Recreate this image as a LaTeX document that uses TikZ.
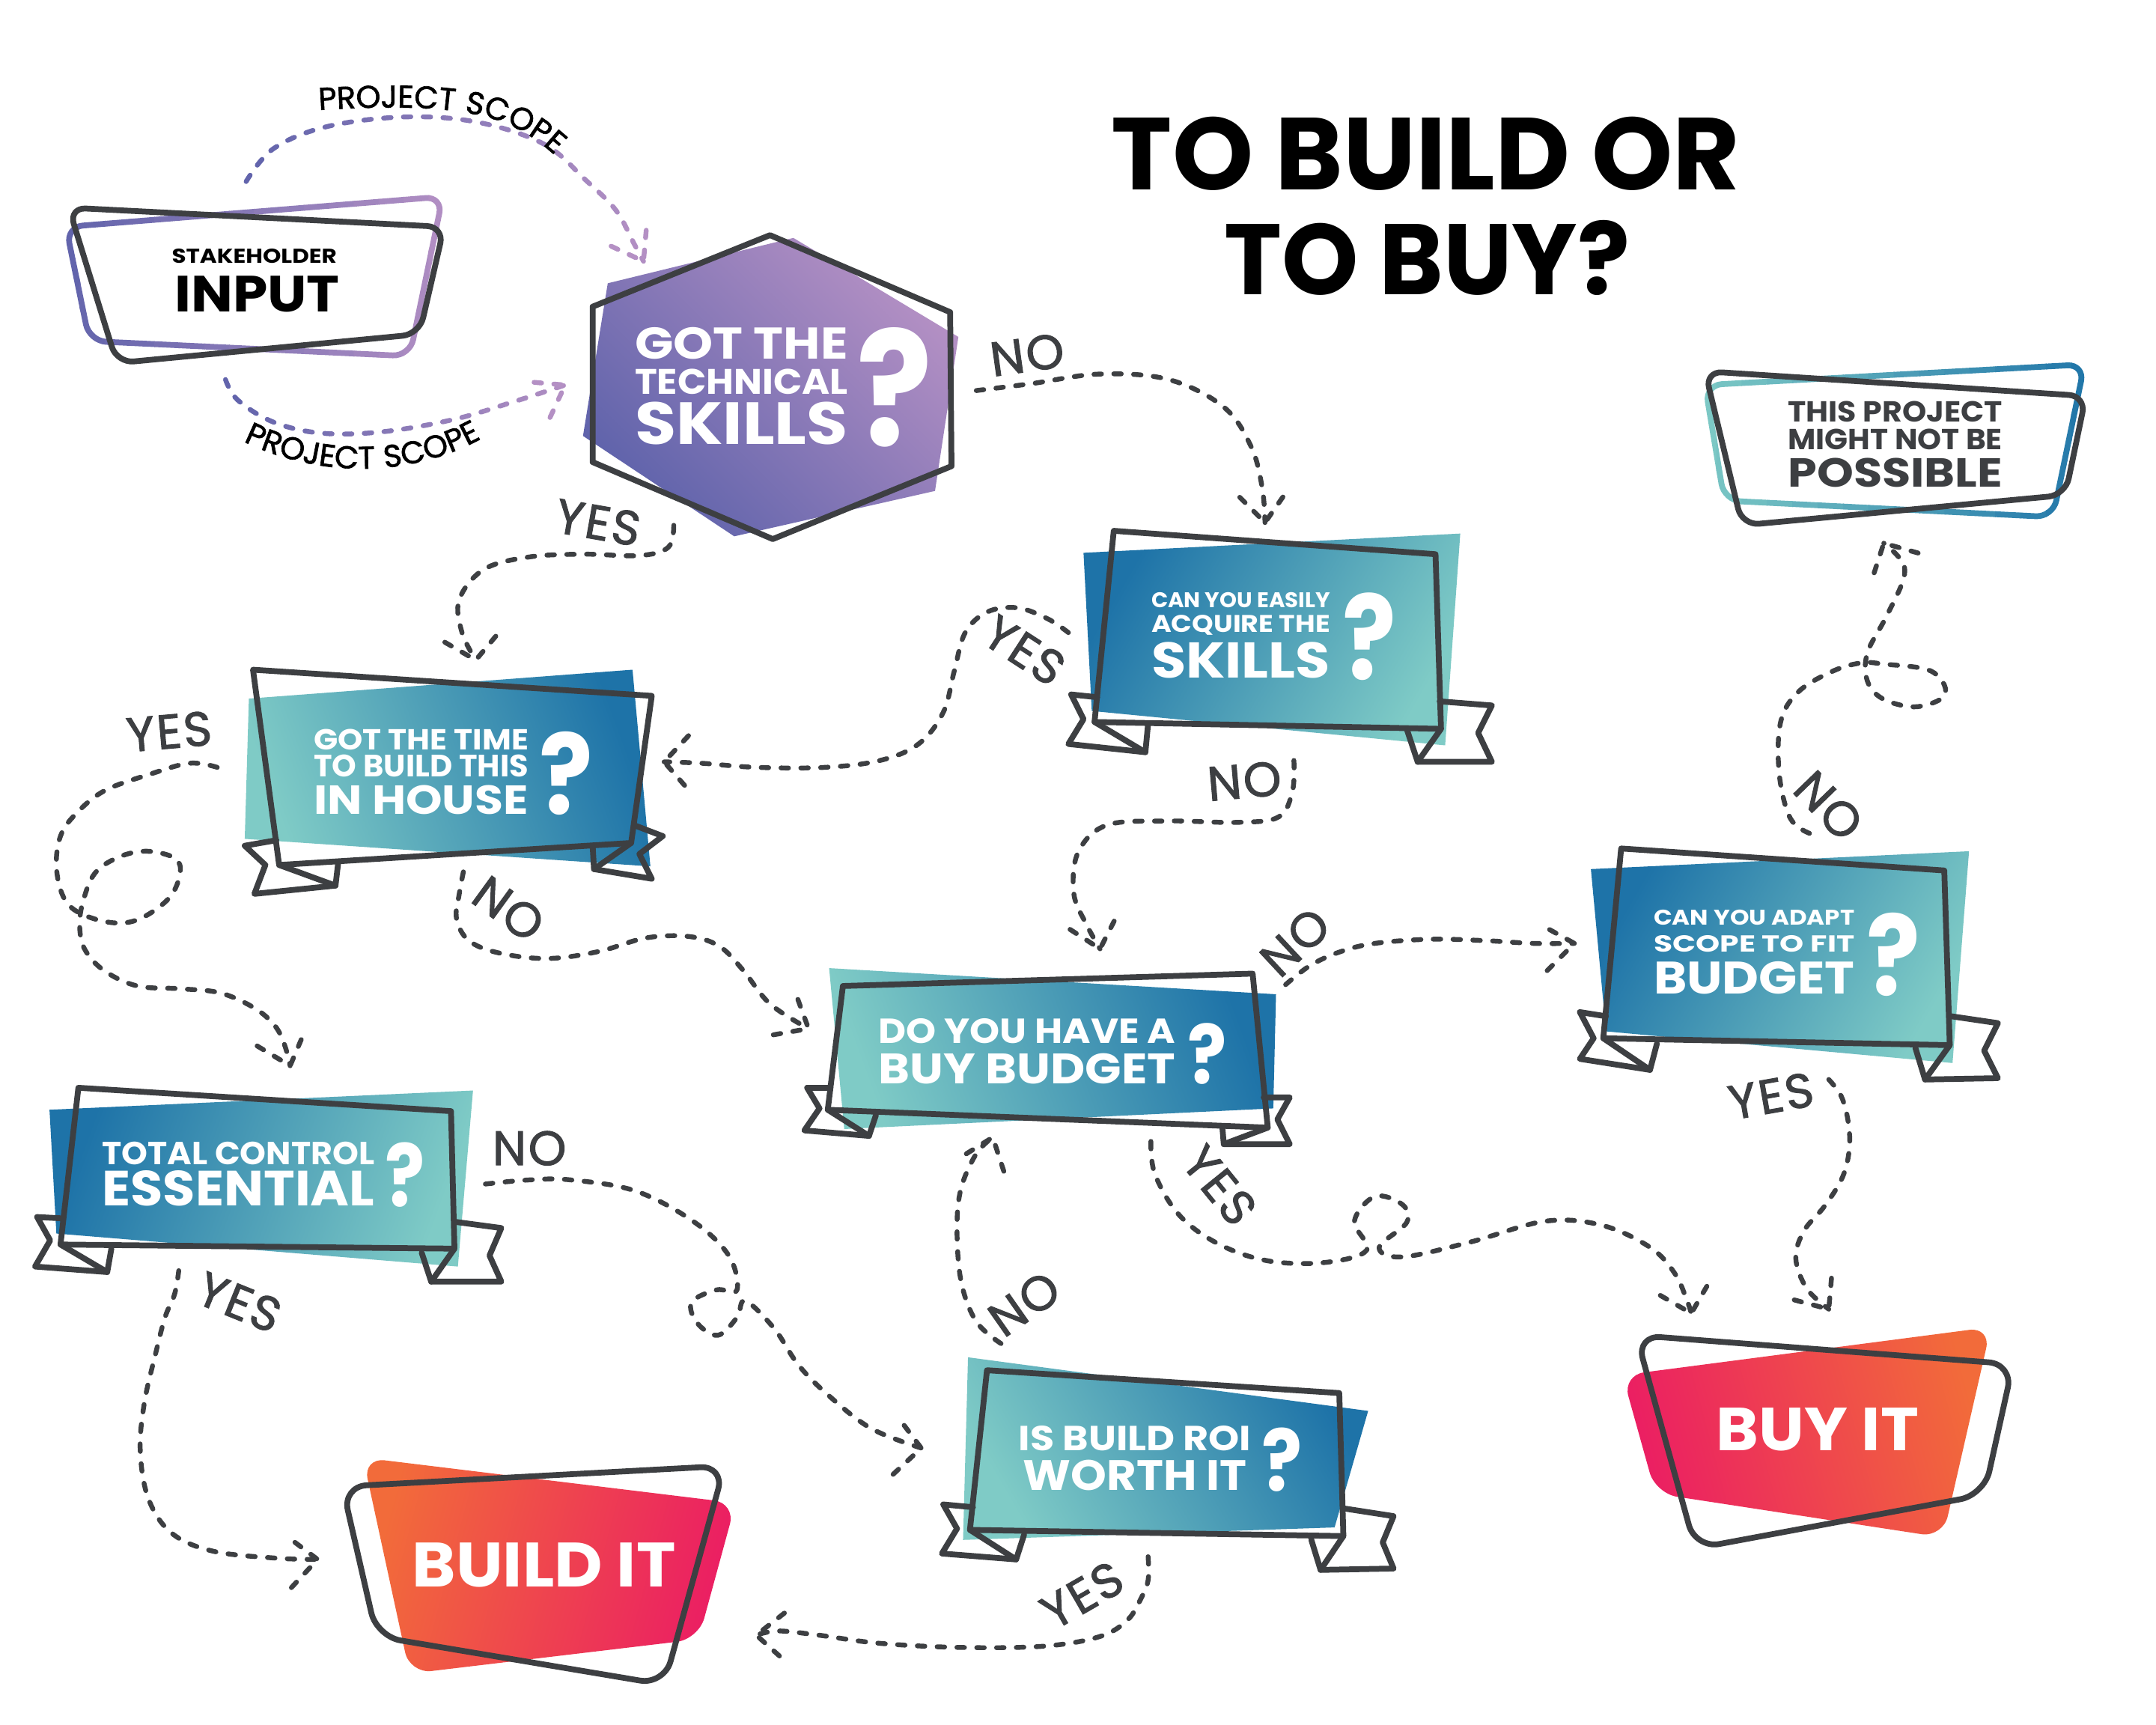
\documentclass[tikz,border=0pt]{standalone}
\usepackage{fontspec}
\usepackage{graphicx}
\usetikzlibrary{calc,decorations.text}
\newfontfamily\pop{Poppins}
\newfontfamily\popl{Poppins}[FakeBold=1.6, LetterSpace=4]
\newlength\du \setlength\du{0.02cm}
\definecolor{dk}{HTML}{3D3F42}
\definecolor{tealc}{HTML}{7FCBC6}
\definecolor{bluec}{HTML}{1E73A8}
\definecolor{purl}{HTML}{B490C4}
\definecolor{purd}{HTML}{5F63AB}
\definecolor{orng}{HTML}{F26B3A}
\definecolor{pnk}{HTML}{EB1E63}
\tikzset{
  conn/.style={draw=dk, line width=2pt, dash pattern=on 3.1pt off 5.1pt, line cap=round, line join=round},
  frame/.style={draw=dk, line width=2.4pt, line join=round, line cap=round},
  lbl/.style={inner sep=0pt, text=dk, font=\popl\fontsize{20}{20}\selectfont},
}
\newcommand\chev[5][conn]{\draw[#1] ($(#2)+({#3+180-#4}:#5)$) -- (#2) -- ($(#2)+({#3+180+#4}:#5)$);}
\newcommand\wl[6]{%
  \node[anchor=base west, inner sep=0pt, text=white] (#1) at (#2,#3) {\resizebox{#4\du}{#5\du}{\pop\bfseries #6}};}
\newcommand\dl[7]{%
  \node[anchor=base west, inner sep=0pt, text=#7] (#1) at (#2,#3) {\resizebox{#4\du}{#5\du}{\pop\bfseries #6}};}
\newcommand\gradstroke[6]{%
  \foreach \gi in {0,...,15}{%
    \pgfmathtruncatemacro\gpct{100*(\gi+0.5)/16}%
    \pgfmathsetmacro\gxa{#5+(#6-#5)*\gi/16-0.3}%
    \pgfmathsetmacro\gxb{#5+(#6-#5)*(\gi+1)/16+0.3}%
    \colorlet{gcol}{#4!\gpct!#3}%
    \begin{scope}
      \clip (\gxa,-50) rectangle (\gxb,1300);
      \draw[#1, draw=gcol] #2;
    \end{scope}
  }%
}
\begin{document}
\begin{tikzpicture}[x=0.02cm, y=-0.02cm]
\useasboundingbox (0,0) rectangle (1568,1254);
\fill[white] (0,0) rectangle (1568,1254);

% ---------- connectors ----------
\coordinate (c1s) at (179,132); \coordinate (c1t) at (468,190);
\gradstroke{conn}{plot[smooth,tension=0.6] coordinates {(c1s) (199,108) (238,92) (295,85) (348,89) (396,105) (426,131) (448,153) (461,177) (c1t)}}{purd}{purl}{175}{472}
\chev[conn,draw=purl]{c1t}{60}{35}{26}
\coordinate (c2s) at (164,276); \coordinate (c2t) at (411,280);
\gradstroke{conn}{plot[smooth,tension=0.6] coordinates {(c2s) (173,291) (199,307) (234,315) (278,314) (330,305) (374,292) (c2t)}}{purd}{purl}{160}{415}
\chev[conn,draw=purl]{c2t}{-30}{35}{26}

\path[decorate, decoration={text along path, text align=left, text={|\popl\fontsize{13}{13}\selectfont|PROJECT SCOPE}}] (232,80) .. controls (300,76) and (345,78) .. (375,93) .. controls (392,102) and (405,112) .. (418,130);
\path[decorate, decoration={text along path, text align=left, text={|\popl\fontsize{13}{13}\selectfont|PROJECT SCOPE}}] (177,321) .. controls (230,347) and (305,352) .. (368,308);

\coordinate (c3s) at (490,382); \coordinate (c3t) at (346,480);
\draw[conn] plot[smooth,tension=0.6] coordinates {(c3s) (486,398) (465,404) (425,403) (385,405) (352,414) (334,436) (336,460) (c3t)};
\chev{c3t}{80}{50}{26}

\coordinate (c4s) at (710,284); \coordinate (c4t) at (920,380);
\draw[conn] plot[smooth,tension=0.6] coordinates {(c4s) (750,279) (800,272) (850,276) (890,296) (910,325) (918,355) (c4t)};
\chev{c4t}{85}{40}{26}

\coordinate (c5s) at (777,460); \coordinate (c5t) at (483,554);
\draw[conn] plot[smooth,tension=0.6] coordinates {(c5s) (762,450) (740,442) (718,445) (702,460) (694,488) (686,518) (668,541) (640,553) (600,558) (550,558) (510,555) (c5t)};
\chev{c5t}{181}{48}{26}

\coordinate (c6s) at (941,553); \coordinate (c6t) at (800,690);
\draw[conn] plot[smooth,tension=0.6] coordinates {(c6s) (940,575) (930,594) (900,598) (850,597) (805,600) (784,620) (781,650) (790,672) (c6t)};
\chev{c6t}{75}{42}{26}

\coordinate (c7s) at (337,634); \coordinate (c7t) at (588,748);
\draw[conn] plot[smooth,tension=0.6] coordinates {(c7s) (334,650) (332,668) (341,684) (363,693) (398,697) (435,692) (470,682) (501,681) (523,688) (540,705) (560,730) (c7t)};
\chev{c7t}{30}{40}{26}

\coordinate (c8s) at (158,558); \coordinate (c8t) at (211,775);
\draw[conn] plot[smooth,tension=0.6] coordinates {(c8s) (138,555) (109,563) (76,575) (55,592) (44,608) (41,630) (46,652) (58,664) (82,671) (102,668) (123,653) (131,635) (127,624) (107,619) (87,623) (69,635) (60,657) (58,675) (62,691) (76,706) (100,717) (131,719) (160,722) (185,733) (200,746) (207,760) (c8t)};
\chev{c8t}{72}{41}{28}

\coordinate (c9s) at (935,716); \coordinate (c9t) at (1145,686);
\draw[conn] plot[smooth,tension=0.6] coordinates {(c9s) (953,702) (975,692) (1000,686) (1040,683) (1080,684) (1115,686) (c9t)};
\chev{c9t}{-8}{37}{28}

\coordinate (c10s) at (1316,606); \coordinate (c10t) at (1370,395);
\draw[conn] plot[smooth,tension=0.6] coordinates {(c10s) (1302,595) (1294,563) (1295,525) (1308,503) (1333,488) (1354,482) (1371,483) (1402,487) (1414,498) (1412,508) (1392,514) (1369,508) (1358,495) (1358,475) (1371,450) (1383,425) (1385,412) (1379,403) (c10t)};
\chev{c10t}{242}{46}{26}

\coordinate (c11s) at (837,830); \coordinate (c11t) at (1230,955);
\draw[conn] plot[smooth,tension=0.6] coordinates {(c11s) (840,854) (858,884) (887,905) (923,917) (964,918) (994,909) (985,888) (1000,870) (1020,876) (1023,889) (1003,907) (1020,914) (1070,903) (1124,888) (1165,891) (1200,907) (1218,926) (1227,946) (c11t)};
\chev{c11t}{75}{45}{26}

\coordinate (c12s) at (1330,785); \coordinate (c12t) at (1330,952);
\draw[conn] plot[smooth,tension=0.6] coordinates {(c12s) (1339,797) (1344,815) (1345,835) (1340,856) (1327,877) (1312,895) (1306,915) (1314,937) (c12t)};
\chev{c12t}{55}{40}{26}

\coordinate (c13s) at (353,861); \coordinate (c13t) at (670,1053);
\draw[conn] plot[smooth,tension=0.6] coordinates {(c13s) (385,858) (415,858) (462,866) (504,888) (530,913) (536,938) (521,938) (503,947) (507,962) (522,971) (536,958) (542,946) (563,966) (581,993) (604,1016) (634,1039) (c13t)};
\chev{c13t}{5}{48}{28}

\coordinate (c14s) at (130,924); \coordinate (c14t) at (231,1134);
\draw[conn] plot[smooth,tension=0.6] coordinates {(c14s) (127,941) (120,958) (113,985) (105,1020) (102,1055) (108,1090) (125,1115) (155,1128) (200,1133) (c14t)};
\chev{c14t}{-5}{42}{28}

\coordinate (c15s) at (728,977); \coordinate (c15t) at (722,827);
\draw[conn] plot[smooth,tension=0.6] coordinates {(c15s) (710,961) (699,932) (696,893) (699,864) (710,839) (c15t)};
\chev{c15t}{-70}{38}{26}

\coordinate (c16s) at (835,1132); \coordinate (c16t) at (550,1189);
\draw[conn] plot[smooth,tension=0.6] coordinates {(c16s) (835,1149) (830,1162) (820,1178) (800,1190) (760,1197) (700,1198) (640,1195) (595,1189) (566,1186) (c16t)};
\chev{c16t}{182}{40}{26}

% ---------- labels ----------
\node[lbl, rotate=-10] (l1) at (435,380) {YES};
\node[lbl, rotate=8] (l2) at (747,258) {NO};
\node[lbl, rotate=-33] (l3) at (745,473) {YES};
\node[lbl, rotate=5] (l4) at (905,568) {NO};
\node[lbl, rotate=5] (l5) at (123,532) {YES};
\node[lbl, rotate=-36] (l6) at (370,661) {NO};
\node[lbl, rotate=43] (l7) at (942,685) {NO};
\node[lbl, rotate=-46] (l8) at (1330,586) {NO};
\node[lbl, rotate=-51] (l9) at (887,862) {YES};
\node[lbl, rotate=10] (l10) at (1288,797) {YES};
\node[lbl] (l11) at (385,835) {NO};
\node[lbl, rotate=-22] (l12) at (174,947) {YES};
\node[lbl, rotate=35] (l13) at (745,948) {NO};
\node[lbl, rotate=30] (l14) at (787,1160) {YES};

% ---------- title ----------
\dl{ti1}{808}{138}{457}{53}{TO BUILD OR}{black}
\dl{ti2}{890}{214}{295}{54}{TO BUY?}{black}

% ---------- stakeholder input ----------
\gradstroke{frame,rounded corners=7pt}{(48,165) -- (322,143) -- (298,259) -- (65,248) -- cycle}{purd}{purl}{40}{330}
\draw[frame, rounded corners=7pt] (50,151) -- (323,165) -- (305,243) -- (85,264) -- cycle;
\dl{s1}{124.6}{191.4}{120}{10.4}{STAKEHOLDER}{black}
\dl{s2}{126.7}{227}{120}{26}{INPUT}{black}

% ---------- hexagon ----------
\shade[left color=purd, right color=purl, shading angle=135] (577,173) -- (697,245) -- (680,357) -- (534,390) -- (424,317) -- (442,206) -- cycle;
\draw[frame] (560,171) -- (691,227) -- (692,339) -- (562,392) -- (431,336) -- (431,223) -- cycle;
\wl{h1}{461.4}{261.3}{155}{23}{GOT THE}
\wl{h2}{461.4}{286.5}{155}{18.3}{TECHNICAL}
\wl{h3}{461.4}{323.2}{155}{30.8}{SKILLS}
\wl{hq}{623}{324}{55}{86}{?}

% ---------- B1 ----------
\shade[left color=tealc, right color=bluec, shading angle=110] (181,508) -- (460,487) -- (473,630) -- (178,610) -- cycle;
\draw[frame] (201,611) -- (178,615) -- (193,629) -- (185,650) -- (244,644) -- (246,627);
\draw[frame] (203,629) -- (244,644);
\draw[frame] (461,600) -- (482,608) -- (465,621) -- (474,639) -- (432,632) -- (431,615);
\draw[frame] (459,613) -- (432,632);
\draw[frame] (184,487) -- (474,506) -- (459,613) -- (203,629) -- cycle;
\wl{b1a}{228}{545}{156}{15}{GOT THE TIME}
\wl{b1b}{228}{565}{156}{16}{TO BUILD THIS}
\wl{b1c}{228}{592}{156}{21}{IN HOUSE}
\wl{b1q}{392}{592}{39}{60}{?}

% ---------- B2 ----------
\shade[left color=bluec, right color=tealc, shading angle=60] (788,402) -- (1062,388) -- (1051,542) -- (794,517) -- cycle;
\draw[frame] (798,507) -- (779,505) -- (788,523) -- (777,541) -- (833,547) -- (835,526);
\draw[frame] (796,525) -- (833,547);
\draw[frame] (1047,510) -- (1085,513) -- (1075,533) -- (1085,554) -- (1031,554) -- (1023,530);
\draw[frame] (1048,530) -- (1031,554);
\draw[frame] (810,386) -- (1044,403) -- (1048,530) -- (796,525) -- cycle;
\wl{b2a}{837}{442}{130}{11}{CAN YOU EASILY}
\wl{b2b}{837}{460}{130}{12.5}{ACQUIRE THE}
\wl{b2c}{837}{493}{130}{26}{SKILLS}
\wl{b2q}{976}{494}{39}{63}{?}

% ---------- B3 ----------
\shade[left color=tealc, right color=bluec, shading angle=110] (603,704) -- (928,723) -- (926,806) -- (614,821) -- cycle;
\draw[frame] (604,791) -- (587,791) -- (596,806) -- (585,822) -- (632,826) -- (637,811);
\draw[frame] (602,807) -- (632,826);
\draw[frame] (919,798) -- (938,798) -- (929,814) -- (938,832) -- (890,832) -- (889,820);
\draw[frame] (922,820) -- (890,832);
\draw[frame] (613,717) -- (911,708) -- (922,820) -- (602,807) -- cycle;
\wl{b3a}{638.6}{758.5}{216}{18}{DO YOU HAVE A}
\wl{b3b}{638.6}{788}{216}{22}{BUY BUDGET}
\wl{b3q}{863.5}{788}{28.5}{44}{?}

% ---------- B4 ----------
\shade[left color=bluec, right color=tealc, shading angle=60] (1157,632) -- (1432,619) -- (1420,773) -- (1168,750) -- cycle;
\draw[frame] (1168,739) -- (1149,736) -- (1159,755) -- (1149,770) -- (1200,778) -- (1205,759);
\draw[frame] (1166,755) -- (1200,778);
\draw[frame] (1419,739) -- (1453,744) -- (1443,764) -- (1453,784) -- (1400,785) -- (1393,762);
\draw[frame] (1418,760) -- (1400,785);
\draw[frame] (1179,617) -- (1414,633) -- (1418,760) -- (1166,755) -- cycle;
\wl{b4a}{1202.4}{672.4}{146}{11}{CAN YOU ADAPT}
\wl{b4b}{1202.4}{692.4}{146}{12}{SCOPE TO FIT}
\wl{b4c}{1202.4}{723}{146}{23.5}{BUDGET}
\wl{b4q}{1357}{724}{39}{60}{?}

% ---------- B5 ----------
\shade[left color=bluec, right color=tealc, shading angle=70] (36,807) -- (344,793) -- (333,921) -- (41,897) -- cycle;
\draw[frame] (46,886) -- (27,885) -- (36.5,902) -- (25.5,921) -- (78,925) -- (81,908);
\draw[frame] (44,905) -- (78,925);
\draw[frame] (331,888.5) -- (364.6,893) -- (356,913) -- (364.6,932) -- (313.6,932) -- (306.7,911);
\draw[frame] (330.5,908) -- (313.6,932);
\draw[frame] (57,791) -- (328,808) -- (330.5,908) -- (44,905) -- cycle;
\wl{b5a}{74}{846.6}{198}{16.5}{TOTAL CONTROL}
\wl{b5b}{74}{876.6}{198}{25.6}{ESSENTIAL}
\wl{b5q}{279.5}{877.6}{29}{46.6}{?}

% ---------- B6 ----------
\shade[left color=tealc, right color=bluec, shading angle=120] (704,987) -- (995,1026) -- (970.6,1110.7) -- (700.4,1119.8) -- cycle;
\draw[frame] (707.6,1096) -- (686,1094) -- (696,1111.6) -- (685,1129.7) -- (739,1134) -- (744.8,1116);
\draw[frame] (705.4,1112.5) -- (739,1134);
\draw[frame] (978,1097) -- (1013.5,1102.5) -- (1005.6,1121.6) -- (1013.5,1140.6) -- (960.4,1141.6) -- (953.7,1119.8);
\draw[frame] (977,1117) -- (960.4,1141.6);
\draw[frame] (717.8,996.4) -- (974,1013) -- (977,1117) -- (705.4,1112.5) -- cycle;
\wl{b6a}{740.6}{1055}{169}{18}{IS BUILD ROI}
\wl{b6b}{743.8}{1083.5}{162.5}{22}{WORTH IT}
\wl{b6q}{917.5}{1084.4}{29.5}{46}{?}

% ---------- T1 ----------
\gradstroke{frame,rounded corners=7pt}{(1240,280) -- (1516,265) -- (1493,376) -- (1254,364) -- cycle}{tealc}{bluec}{1230}{1525}
\draw[frame, rounded corners=7pt] (1240,270) -- (1517,288) -- (1502,360) -- (1267,382) -- cycle;
\dl{t1a}{1300}{306.7}{156}{15}{THIS PROJECT}{dk}
\dl{t1b}{1300}{326.7}{156}{15}{MIGHT NOT BE}{dk}
\dl{t1c}{1300}{354.2}{156}{21}{POSSIBLE}{dk}

% ---------- T2 BUILD IT ----------
\shade[left color=orng, right color=pnk, shading angle=75, rounded corners=9pt] (264,1060) -- (535,1093) -- (508,1192) -- (298,1217) -- cycle;
\draw[frame, rounded corners=10pt] (249,1081) -- (527,1066) -- (483,1225) -- (274,1190) -- cycle;
\wl{t2}{299.5}{1154}{191.5}{32}{BUILD IT}

% ---------- T3 BUY IT ----------
\shade[left color=pnk, right color=orng, shading angle=105, rounded corners=9pt] (1180,1000) -- (1448,965) -- (1413,1118) -- (1204,1086) -- cycle;
\draw[frame, rounded corners=10pt] (1190,971) -- (1464,992) -- (1443,1087) -- (1233,1126) -- cycle;
\wl{t3}{1248}{1055}{147}{31}{BUY IT}
\end{tikzpicture}
\end{document}
